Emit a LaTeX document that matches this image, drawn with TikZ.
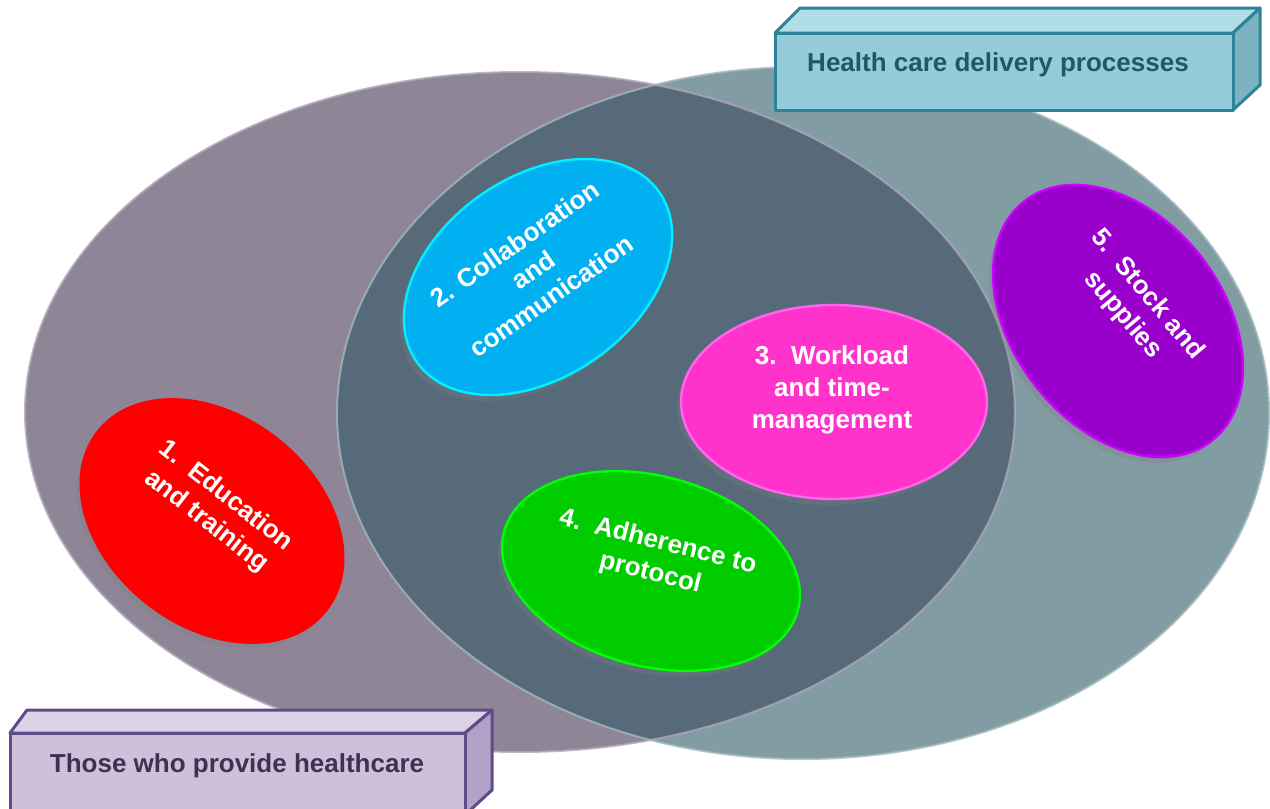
\documentclass[tikz,border=0pt]{standalone}
\usepackage{fontspec}
\setmainfont{Liberation Sans}
\usetikzlibrary{shapes.geometric,shadows}
\definecolor{provider}{HTML}{8E8597}
\definecolor{providerrim}{HTML}{AFA6BA}
\definecolor{delivery}{HTML}{829CA3}
\definecolor{deliveryrim}{HTML}{A3B8BE}
\definecolor{overlap}{HTML}{566A79}
\definecolor{edu}{HTML}{FF0000}
\definecolor{collab}{HTML}{00B0F0}
\definecolor{collabrim}{HTML}{00F0FF}
\definecolor{workload}{HTML}{FF33CC}
\definecolor{workloadrim}{HTML}{FF66EE}
\definecolor{protocol}{HTML}{00CC00}
\definecolor{protocolrim}{HTML}{00FF00}
\definecolor{stock}{HTML}{9900CC}
\definecolor{stockrim}{HTML}{CC00FF}
\definecolor{tealfront}{HTML}{94CDD9}
\definecolor{tealtop}{HTML}{B0DDE7}
\definecolor{tealside}{HTML}{7CB3C0}
\definecolor{tealline}{HTML}{2E8299}
\definecolor{tealtext}{HTML}{215868}
\definecolor{lilacfront}{HTML}{CCC0DA}
\definecolor{lilactop}{HTML}{DCD3E7}
\definecolor{lilacside}{HTML}{B1A1C6}
\definecolor{lilacline}{HTML}{5F4B8B}
\definecolor{lilactext}{HTML}{3F3151}
\begin{document}
\begin{tikzpicture}[x=0.5pt, y=-0.5pt, line join=round,
	font=\bfseries\fontsize{13}{16}\selectfont,
	bubble/.style={ellipse, inner sep=0pt, fill=#1, line width=1.2pt,
		drop shadow={shadow xshift=-2pt, shadow yshift=-3pt, opacity=0.3}},
	lbl/.style={text=white, align=center, inner sep=0pt},
	boxtext/.style={anchor=base, inner sep=0pt}]
	\useasboundingbox (0,0) rectangle (1270,809);
	% the two big sets
	\fill[provider] (520,412) ellipse (495 and 340);
	\fill[delivery] (803,413) ellipse (466 and 346);
	\begin{scope}
		\clip (803,413) ellipse (466 and 346);
		\fill[overlap] (520,412) ellipse (495 and 340);
	\end{scope}
	\draw[providerrim, line width=1pt, opacity=0.8] (520,412) ellipse (495 and 340);
	\draw[deliveryrim, line width=1pt, opacity=0.8] (803,413) ellipse (466 and 346);
	% factors
	\node[bubble=edu, draw=edu, minimum width=145pt, minimum height=105pt, rotate=-38] (edushape) at (212,521) {};
	\node[lbl, rotate=-38] (edutext) at (216,509) {1.\ \ Education\\and training};
	\node[bubble=collab, draw=collabrim, minimum width=148pt, minimum height=100pt, rotate=35] (collabshape) at (538,277) {};
	\node[lbl, rotate=35] (collabtext) at (533,270) {2. Collaboration\\and\\communication};
	\node[bubble=workload, draw=workloadrim, minimum width=153pt, minimum height=97pt] (workshape) at (834,402) {};
	\node[lbl] (worktext) at (832,390) {3.\ \ Workload\\and time-\\management};
	\node[bubble=protocol, draw=protocolrim, minimum width=152pt, minimum height=95pt, rotate=-15] (protshape) at (651,571) {};
	\node[lbl, rotate=-14] (prottext) at (654,558) {4.\ \ Adherence to\\protocol};
	\node[bubble=stock, draw=stockrim, minimum width=152pt, minimum height=105pt, rotate=-52] (stockshape) at (1118,321) {};
	\node[lbl, rotate=-50] (stocktext) at (1135,305) {5.\ \ Stock and\\supplies};
	% labels on 3d boxes
	\filldraw[fill=tealtop, draw=tealline, line width=1.5pt] (775,33) -- (800,8) -- (1260,8) -- (1233,33) -- cycle;
	\filldraw[fill=tealside, draw=tealline, line width=1.5pt] (1233,33) -- (1260,8) -- (1260,85) -- (1233,110) -- cycle;
	\filldraw[fill=tealfront, draw=tealline, line width=1.5pt] (775,33) rectangle (1233,110);
	\node[boxtext, text=tealtext] (deliverylabel) at (998,71) {Health care delivery processes};
	\filldraw[fill=lilactop, draw=lilacline, line width=1.5pt] (10,733) -- (27,710) -- (492,710) -- (465,733) -- cycle;
	\filldraw[fill=lilacside, draw=lilacline, line width=1.5pt] (465,733) -- (492,710) -- (492,790) -- (465,815) -- cycle;
	\filldraw[fill=lilacfront, draw=lilacline, line width=1.5pt] (10,733) rectangle (465,815);
	\node[boxtext, text=lilactext] (providerlabel) at (237,772) {Those who provide healthcare};
\end{tikzpicture}
\end{document}
